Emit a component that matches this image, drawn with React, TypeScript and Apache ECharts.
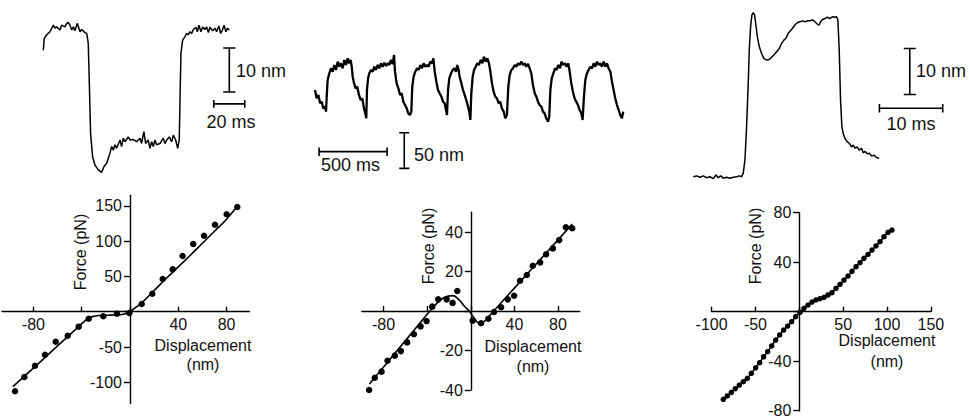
import React, { useEffect, useRef } from "react";
import * as echarts from "echarts";

// ---------- DATA ----------
// Top-left trace: time (ms), displacement (nm)
const traceLeft: number[][] = [
  [0, 29.5], [0.6, 32.2], [2.2, 33.0], [4.3, 33.7], [6.5, 35.2], [7.5, 34.5], [8.6, 34.8], [10.8, 34.1],
  [11.8, 35.2], [14.0, 34.8], [15.1, 35.6], [16.1, 35.8], [17.2, 35.2], [18.3, 34.1], [19.4, 34.8],
  [20.4, 33.9], [21.9, 35.6], [23.7, 33.7], [24.7, 34.2], [26.9, 33.5], [28.0, 33.3], [29.0, 31.1],
  [29.7, 22.0], [30.5, 10.6], [31.8, 5.3], [33.3, 3.4], [35.5, 2.3], [37.6, 1.7], [39.1, 3.0], [40.9, 3.8],
  [43.0, 6.1], [44.1, 7.6], [45.2, 6.8], [46.2, 8.0], [47.3, 7.2], [49.5, 9.1], [50.5, 7.6], [51.6, 9.5],
  [52.7, 8.7], [54.8, 9.8], [55.9, 9.1], [58.1, 9.2], [60.2, 8.7], [62.4, 9.5], [63.4, 8.3], [64.9, 11.0],
  [66.0, 8.3], [67.7, 9.1], [68.8, 7.2], [69.9, 8.7], [71.0, 7.6], [72.0, 9.1], [73.1, 8.0], [75.3, 8.3],
  [77.4, 9.5], [78.5, 8.3], [79.6, 9.1], [81.3, 9.8], [82.8, 8.7], [83.9, 10.2], [85.4, 9.1], [86.7, 7.2],
  [87.7, 9.1], [88.2, 18.2], [88.8, 28.8], [89.9, 31.8], [91.4, 32.6], [92.5, 33.3], [93.5, 33.0],
  [94.6, 33.7], [95.7, 33.3], [96.8, 34.2], [98.5, 34.7], [99.4, 33.7], [100.4, 35.2], [101.7, 33.7],
  [102.8, 34.8], [104.3, 34.2], [105.4, 34.8], [106.5, 33.5], [107.5, 34.7], [109.2, 33.9], [110.8, 34.5],
  [111.8, 33.7], [113.3, 35.0], [114.4, 33.3], [115.7, 34.2], [116.6, 35.2], [117.8, 33.7], [118.9, 34.5],
  [120.0, 34.1],
];

// Top-middle trace: time (ms), displacement (nm)
const traceMiddle: number[][] = [
  [0, 51.5], [12, 39.8], [25, 44.5], [37, 32.8], [49, 35.1], [61, 25.7], [74, 28.1], [81, 21.1],
  [86, 42.1], [93, 65.5], [105, 74.9], [118, 81.9], [130, 77.2], [142, 86.6], [154, 79.6], [167, 91.3],
  [179, 84.2], [191, 88.9], [203, 81.9], [216, 93.6], [228, 86.6], [240, 95.9], [252, 88.9], [262, 93.6],
  [270, 84.2], [277, 70.2], [287, 60.8], [299, 53.8], [311, 56.2], [323, 44.5], [336, 37.4], [348, 39.8],
  [360, 25.7], [370, 18.7], [377, 11.7],
  [382, 51.5], [390, 67.9], [399, 74.9], [412, 79.6], [424, 77.2], [436, 84.2], [448, 79.6], [461, 86.6],
  [473, 81.9], [485, 88.9], [497, 84.2], [510, 89.9], [522, 85.2], [534, 88.9], [546, 86.6], [559, 93.6],
  [571, 88.0], [581, 100.6], [588, 77.2], [600, 60.8], [613, 53.8], [625, 44.5], [637, 46.8], [649, 35.1],
  [662, 30.4], [674, 25.7], [686, 18.7], [698, 16.4], [708, 21.1],
  [715, 56.2], [725, 70.2], [737, 77.2], [750, 81.9], [762, 79.6], [774, 86.6], [786, 81.9], [799, 88.9],
  [811, 84.2], [823, 86.6], [835, 84.2], [848, 91.3], [860, 88.9], [870, 95.9], [880, 77.2], [892, 63.2],
  [904, 51.5], [916, 46.8], [929, 42.1], [941, 35.1], [953, 32.8], [963, 23.4], [970, 16.4],
  [978, 51.5], [987, 67.9], [1000, 74.9], [1012, 79.6], [1024, 81.9], [1036, 77.2], [1046, 86.6],
  [1056, 79.6], [1063, 70.2], [1076, 60.8], [1088, 51.5], [1100, 44.5], [1112, 37.4], [1125, 28.1],
  [1134, 21.1], [1142, 9.4],
  [1149, 46.8], [1159, 70.2], [1169, 79.6], [1181, 84.2], [1193, 88.9], [1205, 86.6], [1218, 93.6],
  [1230, 88.9], [1242, 98.3], [1254, 91.3], [1267, 95.9], [1279, 88.9], [1289, 77.2], [1301, 60.8],
  [1313, 49.1], [1325, 42.1], [1338, 39.8], [1350, 32.8], [1362, 35.1], [1374, 25.7], [1387, 21.1],
  [1399, 11.7], [1411, 16.4],
  [1421, 56.2], [1431, 72.5], [1443, 79.6], [1455, 81.9], [1468, 86.6], [1480, 84.2], [1492, 88.9],
  [1504, 86.6], [1517, 91.3], [1529, 86.6], [1541, 88.9], [1553, 84.2], [1566, 88.0], [1578, 81.9],
  [1590, 74.9], [1602, 58.5], [1615, 46.8], [1627, 42.1], [1639, 35.1], [1651, 30.4], [1664, 28.1],
  [1676, 21.1], [1688, 18.7], [1700, 11.7], [1713, 7.0], [1722, 14.0],
  [1730, 51.5], [1740, 67.9], [1752, 74.9], [1764, 81.9], [1776, 79.6], [1789, 86.6], [1801, 81.9],
  [1813, 91.3], [1825, 86.6], [1838, 88.9], [1850, 84.2], [1862, 88.9], [1872, 77.2], [1884, 60.8],
  [1896, 49.1], [1908, 39.8], [1921, 35.1], [1933, 30.4], [1945, 23.4], [1958, 18.7], [1967, 9.4],
  [1977, 42.1], [1987, 65.5], [1999, 74.9], [2011, 79.6], [2024, 84.2], [2036, 81.9], [2048, 88.9],
  [2060, 84.2], [2073, 91.3], [2085, 86.6], [2097, 88.9], [2109, 84.2], [2122, 91.3], [2134, 84.2],
  [2146, 88.9], [2158, 81.9], [2171, 77.2], [2183, 63.2], [2195, 51.5], [2207, 39.8], [2220, 30.4],
  [2232, 23.4], [2244, 16.4], [2256, 11.7], [2266, 21.1],
];

// Top-right trace: time (ms), displacement (nm)
const traceRight: number[][] = [
  [0, 0.7], [0.53, 0.9], [1.05, 0.6], [1.58, 0.9], [2.1, 0.5], [2.63, 0.7], [3.16, 0.3], [3.58, 1.1],
  [3.95, 0.5], [4.32, 0.9], [4.74, 0.4], [5.26, 0.6], [5.79, 0.4], [6.32, 0.6], [6.84, 0.7], [7.26, 0.9],
  [7.63, 0.7], [7.89, 1.5], [8.16, 4.4], [8.42, 11.6], [8.68, 21.0], [8.84, 28.3], [9.05, 33.3],
  [9.26, 35.9], [9.47, 36.4], [9.68, 35.9], [9.89, 33.7], [10.11, 31.2], [10.42, 29.0], [10.79, 27.5],
  [11.16, 26.4], [11.58, 26.1], [12.0, 26.2], [12.37, 26.7], [12.74, 27.2], [13.16, 27.9], [13.58, 28.6],
  [13.95, 29.7], [14.32, 30.4], [14.63, 30.8], [15.0, 31.9], [15.37, 32.5], [15.68, 33.0], [16.05, 33.7],
  [16.42, 34.2], [16.84, 34.4], [17.26, 34.6], [17.63, 34.4], [18.0, 34.6], [18.42, 34.6], [18.84, 34.8],
  [19.21, 34.4], [19.58, 33.9], [19.89, 33.7], [20.11, 34.4], [20.42, 34.9], [20.79, 35.1], [21.16, 35.4],
  [21.58, 35.1], [22.0, 35.5], [22.37, 35.4], [22.63, 35.5], [22.84, 34.8], [23.05, 28.3], [23.26, 17.4],
  [23.47, 11.6], [23.68, 10.1], [23.95, 9.1], [24.32, 8.3], [24.63, 8.0], [25.0, 7.2], [25.26, 7.6],
  [25.58, 6.9], [25.89, 7.2], [26.21, 6.5], [26.58, 6.9], [26.84, 5.9], [27.16, 6.2], [27.47, 5.7],
  [27.79, 5.8], [28.16, 5.2], [28.53, 5.4], [28.95, 4.9], [29.37, 4.7],
];

// Bottom-left: displacement (nm), force (pN)
const pointsLeft: number[][] = [
  [-95.2, -112.7], [-87.5, -92.5], [-78.7, -76.5], [-70.4, -60.9], [-61.5, -42.5], [-51.6, -34],
  [-42.5, -21.2], [-34.2, -9.9], [-22.1, -6.5], [-10.8, -2.8], [-0.5, -1.8], [9.7, 10.9], [18.5, 25.5],
  [27.1, 46.3], [35.4, 60], [43.6, 78.9], [52.4, 95.9], [61.3, 107.6], [70.4, 123.2], [80.1, 138],
  [88.9, 148.3],
];
const fitLeft: number[][] = [
  [-97, -106], [-80, -80], [-60, -48.5], [-45, -25], [-38, -14], [-34, -9], [-30, -6.5], [-24, -5.2],
  [-16, -4.8], [-8, -4.2], [-3, -2.5], [0, 0], [4, 5], [10, 13], [20, 30], [30, 47], [40, 63.5],
  [50, 80], [60, 97], [70, 114], [80, 131], [89, 150],
];

// Bottom-middle
const pointsMiddle: number[][] = [
  [-93.3, -40], [-88.1, -33.8], [-81.9, -30.7], [-76.4, -25.2], [-69.7, -22.6], [-64.2, -20.3],
  [-58.4, -15.9], [-52.2, -11.8], [-46.1, -7.8], [-40.6, -5.1], [-35.4, 2.2], [-29.9, 5.9], [-22.2, 5.9],
  [-16.7, 4.1], [-12.4, 10.1], [1.7, -4.9], [9.4, -6.2], [16.1, -3.9], [21.3, -0.5], [27.8, 1.9],
  [33.9, 5.9], [39.7, 7.7], [45.2, 15.3], [51.4, 18.2], [56.9, 22.9], [63.6, 24.6], [69.1, 28.7],
  [75.3, 31.7], [81.1, 35.9], [87.2, 42.4], [93.1, 41.9],
];
const fitMiddle: number[][] = [
  [-93, -37], [-80, -28.3], [-60, -15], [-45, -5], [-37.5, 0], [-30, 4.5], [-24, 7], [-17, 7.8],
  [-11, 5.8], [-6, 2.5], [-1.5, 0], [3, -3.5], [8, -6.2], [13, -5], [17, -2.5], [21, 0], [40, 11.6],
  [60, 23.8], [80, 36], [93, 44],
];

// Bottom-right
const pointsRight: number[][] = [
  [-86.6, -70.8], [-82.1, -68.1], [-77.5, -65.2], [-73.0, -62.2], [-68.4, -59.3], [-63.8, -56.6],
  [-59.3, -53.9], [-54.7, -49.8], [-49.8, -45.3], [-45.2, -41.2], [-40.7, -36.4], [-36.1, -32.3],
  [-31.5, -27.7], [-27.0, -22.9], [-22.4, -18.8], [-17.9, -14.8], [-13.3, -11.6], [-8.7, -8.1],
  [-4.2, -4.0], [0.8, -0.5], [5.3, 2.7], [9.9, 5.4], [14.4, 7.8], [19.0, 9.5], [23.6, 10.5], [28.1, 11.6],
  [32.7, 13.5], [37.2, 15.4], [41.8, 18.9], [46.4, 22.1], [50.9, 25.6], [55.5, 28.8], [60.0, 32.6],
  [64.6, 36.4], [69.2, 39.6], [73.7, 43.1], [78.3, 46.3], [82.8, 49.8], [87.4, 53.1], [92.0, 56.6],
  [96.5, 60.6], [101.1, 64.1], [105.6, 66.0],
];

// Tick values
const xTicksLeft = [-80, -40, 0, 40, 80];
const xLabelsLeft = [-80, 40, 80];
const yTicksLeft = [-100, -50, 0, 50, 100, 150];
const yLabelsLeft = [-100, -50, 50, 100, 150];
const xTicksMiddle = [-80, -40, 0, 40, 80];
const xLabelsMiddle = [-80, 40, 80];
const yTicksMiddle = [-40, -20, 0, 20, 40];
const yLabelsMiddle = [-40, -20, 20, 40];
const xTicksRight = [-100, -50, 0, 50, 100, 150];
const xLabelsRight = [-100, -50, 50, 100, 150];
const yTicksRight = [-80, -40, 0, 40, 80];
const yLabelsRight = [-80, -40, 40, 80];

// Axis extents of the three force-displacement plots
const rangeLeft = { x: [-106, 99], y: [-130, 165] };
const rangeMiddle = { x: [-100, 100], y: [-40, 50] };
const rangeRight = { x: [-100, 150], y: [-80, 80] };

// Scale bars (values in data units of each trace)
const scaleLeft = { nm: 10, ms: 20 };
const scaleMiddle = { nm: 50, ms: 500 };
const scaleRight = { nm: 10, ms: 10 };

// ---------- STYLE ----------
const FONT = '"Liberation Sans", Arial, Helvetica, sans-serif';
const INK = "#111";

function seg(grid: number, pts: number[][], w = 1.6) {
  return {
    type: "line",
    xAxisIndex: grid,
    yAxisIndex: grid,
    data: pts,
    symbol: "none",
    silent: true,
    lineStyle: { color: "#000", width: w },
  };
}
function vBar(grid: number, t: number, y0: number, len: number, cap: number) {
  return [
    seg(grid, [[t, y0], [t, y0 + len]]),
    seg(grid, [[t - cap, y0], [t + cap, y0]]),
    seg(grid, [[t - cap, y0 + len], [t + cap, y0 + len]]),
  ];
}
function hBar(grid: number, t0: number, y: number, len: number, cap: number) {
  return [
    seg(grid, [[t0, y], [t0 + len, y]]),
    seg(grid, [[t0, y - cap], [t0, y + cap]]),
    seg(grid, [[t0 + len, y - cap], [t0 + len, y + cap]]),
  ];
}

function hidden(grid: number, min: number, max: number) {
  return { type: "value", gridIndex: grid, min, max, show: false, splitLine: { show: false } };
}
const axisStroke = { color: "#000", width: 1.4 };
function visX(grid: number, r: number[], ticks: number[], labels: number[]) {
  return {
    type: "value", gridIndex: grid, min: r[0], max: r[1], position: "bottom",
    axisLine: { show: true, onZero: false, lineStyle: axisStroke },
    axisTick: { show: true, inside: true, length: 5, customValues: ticks, lineStyle: axisStroke },
    axisLabel: { show: true, customValues: labels, margin: 5, fontSize: 16, color: INK, fontFamily: FONT },
    splitLine: { show: false },
  };
}
function visY(grid: number, r: number[], ticks: number[], labels: number[]) {
  return {
    type: "value", gridIndex: grid, min: r[0], max: r[1], position: "left",
    axisLine: { show: true, onZero: false, lineStyle: axisStroke },
    axisTick: { show: true, inside: false, length: 6, customValues: ticks, lineStyle: axisStroke },
    axisLabel: { show: true, customValues: labels, margin: 8, fontSize: 16, color: INK, fontFamily: FONT },
    splitLine: { show: false },
  };
}

function txt(text: string, x: number, y: number, size: number, align = "left", rot = 0) {
  return {
    type: "text", x, y, rotation: rot, silent: true,
    style: { text, fill: INK, fontSize: size, fontFamily: FONT, textAlign: align, textVerticalAlign: "middle" },
  };
}

type Rect = { left: number; top: number; width: number; height: number };
const gridOf = (r: Rect) => ({ ...r, containLabel: false, outerBoundsMode: "none" });
// grid whose bottom edge is the y = 0 line of the plot (carries the x axis)
function xAxisGrid(r: Rect, range: { x: number[]; y: number[] }) {
  const f = range.y[1] / (range.y[1] - range.y[0]);
  return gridOf({ left: r.left, top: r.top, width: r.width, height: r.height * f });
}
// grid whose left edge is the x = 0 line of the plot (carries the y axis)
function yAxisGrid(r: Rect, range: { x: number[]; y: number[] }) {
  const f = -range.x[0] / (range.x[1] - range.x[0]);
  return gridOf({ left: r.left + r.width * f, top: r.top, width: r.width * (1 - f), height: r.height });
}

const dotStyle = { color: "#000", opacity: 1 };

export default function App() {
  const ref = useRef<HTMLDivElement>(null);
  useEffect(() => {
    document.body.style.margin = "0";
    const chart = echarts.init(ref.current!, null, { renderer: "svg", width: 970, height: 416 });
    const rL: Rect = { left: 2, top: 195.2, width: 247.5, height: 208.3 };
    const rM: Rect = { left: 361.8, top: 212.25, width: 218, height: 177.75 };
    const rR: Rect = { left: 711.6, top: 212.7, width: 219.3, height: 198 };
    const option: any = {
      animation: false,
      backgroundColor: "#fff",
      grid: [
        gridOf({ left: 35.55, top: 4, width: 232.5, height: 176 }),
        gridOf({ left: 308.2, top: 48.32, width: 326.5, height: 124.65 }),
        gridOf({ left: 680.64, top: 5.2, width: 272.2, height: 184 }),
        gridOf(rL), gridOf(rM), gridOf(rR),
        xAxisGrid(rL, rangeLeft), xAxisGrid(rM, rangeMiddle), xAxisGrid(rR, rangeRight),
        yAxisGrid(rL, rangeLeft), yAxisGrid(rM, rangeMiddle), yAxisGrid(rR, rangeRight),
      ],
      xAxis: [
        hidden(0, -5, 145),
        hidden(1, -50, 2350),
        hidden(2, -2, 41),
        hidden(3, rangeLeft.x[0], rangeLeft.x[1]),
        hidden(4, rangeMiddle.x[0], rangeMiddle.x[1]),
        hidden(5, rangeRight.x[0], rangeRight.x[1]),
        visX(6, rangeLeft.x, xTicksLeft, xLabelsLeft),
        visX(7, rangeMiddle.x, xTicksMiddle, xLabelsMiddle),
        visX(8, rangeRight.x, xTicksRight, xLabelsRight),
        hidden(9, 0, 1), hidden(10, 0, 1), hidden(11, 0, 1),
      ],
      yAxis: [
        hidden(0, 0, 40),
        hidden(1, -65, 110),
        hidden(2, -2, 38),
        hidden(3, rangeLeft.y[0], rangeLeft.y[1]),
        hidden(4, rangeMiddle.y[0], rangeMiddle.y[1]),
        hidden(5, rangeRight.y[0], rangeRight.y[1]),
        hidden(6, 0, 1), hidden(7, 0, 1), hidden(8, 0, 1),
        visY(9, rangeLeft.y, yTicksLeft, yLabelsLeft),
        visY(10, rangeMiddle.y, yTicksMiddle, yLabelsMiddle),
        visY(11, rangeRight.y, yTicksRight, yLabelsRight),
      ],
      series: [
        seg(0, traceLeft, 1.5),
        seg(1, traceMiddle, 2.3),
        seg(2, traceRight, 1.5),
        ...vBar(0, 120, 20, scaleLeft.nm, 3.9),
        ...hBar(0, 110, 17.3, scaleLeft.ms, 0.9),
        ...hBar(1, 30, -35.1, scaleMiddle.ms, 6),
        ...vBar(1, 656, -58.5, scaleMiddle.nm, 37),
        ...vBar(2, 34.2, 18.6, scaleRight.nm, 0.95),
        ...hBar(2, 29.4, 15.6, scaleRight.ms, 0.9),
        { type: "line", xAxisIndex: 3, yAxisIndex: 3, data: fitLeft, smooth: true, symbol: "none", lineStyle: { color: "#000", width: 1.6 } },
        { type: "scatter", xAxisIndex: 3, yAxisIndex: 3, data: pointsLeft, symbolSize: 6.5, itemStyle: dotStyle },
        { type: "line", xAxisIndex: 4, yAxisIndex: 4, data: fitMiddle, smooth: true, symbol: "none", lineStyle: { color: "#000", width: 1.6 } },
        { type: "scatter", xAxisIndex: 4, yAxisIndex: 4, data: pointsMiddle, symbolSize: 6.5, itemStyle: dotStyle },
        { type: "line", xAxisIndex: 5, yAxisIndex: 5, data: pointsRight, smooth: true, symbol: "none", lineStyle: { color: "#000", width: 1.5 } },
        { type: "scatter", xAxisIndex: 5, yAxisIndex: 5, data: pointsRight, symbolSize: 5.5, itemStyle: dotStyle },
      ],
      graphic: [
        txt("10 nm", 236, 71, 18),
        txt("20 ms", 231, 122, 18, "center"),
        txt("500 ms", 321, 165, 18),
        txt("50 nm", 414, 155, 18),
        txt("10 nm", 916, 71, 18),
        txt("10 ms", 911, 124, 18, "center"),
        txt("Force (pN)", 80, 252, 16, "center", Math.PI / 2),
        txt("Displacement", 203, 345, 16, "center"),
        txt("(nm)", 203, 364, 16, "center"),
        txt("Force (pN)", 428, 246, 16, "center", Math.PI / 2),
        txt("Displacement", 533, 346, 16, "center"),
        txt("(nm)", 533, 366, 16, "center"),
        txt("Force (pN)", 755, 246, 16, "center", Math.PI / 2),
        txt("Displacement", 887, 340, 16, "center"),
        txt("(nm)", 887, 361, 16, "center"),
      ],
    };
    chart.setOption(option);
    return () => chart.dispose();
  }, []);
  return (
    <div ref={ref} style={{ position: "fixed", left: 0, top: 0, width: 970, height: 416, background: "#fff" }} />
  );
}
